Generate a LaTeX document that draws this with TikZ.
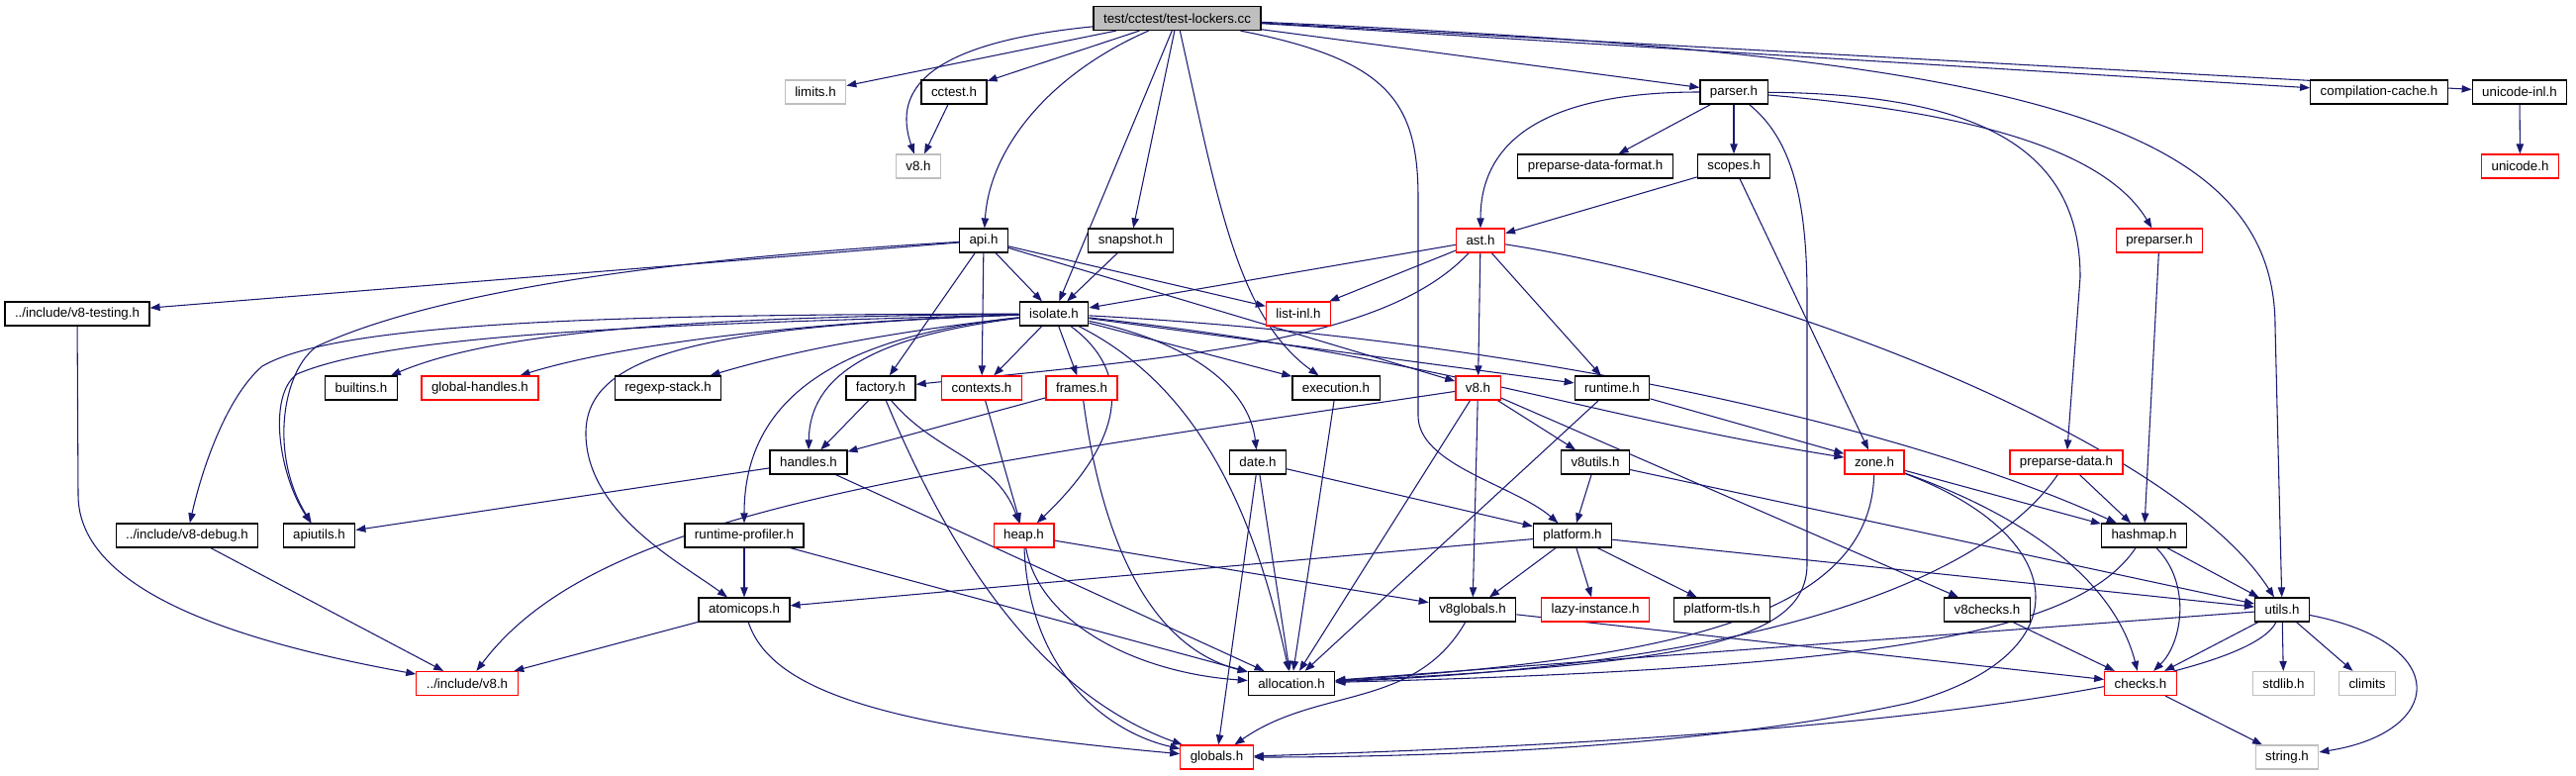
\documentclass[tikz,border=0pt]{standalone}
\usepackage{fontspec}
\setmainfont{Liberation Sans}
\usetikzlibrary{arrows.meta,backgrounds}
\definecolor{edgeblue}{HTML}{191970}
\definecolor{hdrgray}{HTML}{BFBFBF}

\begin{document}
\begin{tikzpicture}[x=0.75pt,y=0.75pt,
    file/.style={draw=black,line width=0.9pt,fill=white,inner xsep=7.5pt,inner ysep=0pt,minimum height=18pt},
    redfile/.style={file,draw=red},
    sysfile/.style={file,draw=hdrgray},
    hdr/.style={file,fill=hdrgray},
    dep/.style={draw=edgeblue,line width=0.8pt,-{Triangle[length=7.5pt,width=5.5pt]}}]
  \useasboundingbox (0,0) rectangle (2603,-784);

  % row 0-2
  \node[hdr] (top) at (1189.5,-18.5) {test/cctest/test-lockers.cc};
  \node[sysfile] (limits) at (824,-93) {limits.h};
  \node[file] (cctest) at (964,-93) {cctest.h};
  \node[file] (parser) at (1752,-93) {parser.h};
  \node[file] (compcache) at (2404,-93) {compilation-cache.h};
  \node[file] (unicodeinl) at (2546,-93) {unicode-inl.h};
  \node[sysfile] (vEight) at (928,-168) {v8.h};
  \node[file] (ppdformat) at (1612,-168) {preparse-data-format.h};
  \node[file] (scopes) at (1752,-168) {scopes.h};
  \node[redfile] (unicode) at (2546.5,-168) {unicode.h};

  % row 3-4
  \node[file] (api) at (994,-243) {api.h};
  \node[file] (snapshot) at (1142.5,-243) {snapshot.h};
  \node[redfile] (ast) at (1496,-243) {ast.h};
  \node[redfile] (preparser) at (2182,-243) {preparser.h};
  \node[file] (vtesting) at (78,-317) {../include/v8-testing.h};
  \node[file] (isolate) at (1065,-317) {isolate.h};
  \node[redfile] (listinl) at (1312,-317) {list-inl.h};

  % row 5-6
  \node[file] (builtins) at (365,-392) {builtins.h};
  \node[redfile] (globalhandles) at (485,-392) {global-handles.h};
  \node[file] (regexpstack) at (675,-392) {regexp-stack.h};
  \node[file] (factory) at (890,-392) {factory.h};
  \node[redfile] (contexts) at (992,-392) {contexts.h};
  \node[redfile] (frames) at (1093,-392) {frames.h};
  \node[file] (execution) at (1350,-392) {execution.h};
  \node[redfile] (veight) at (1493.5,-392) {v8.h};
  \node[file] (runtime) at (1629,-392) {runtime.h};
  \node[file] (handles) at (817,-467) {handles.h};
  \node[file] (date) at (1271,-467) {date.h};
  \node[file] (vutils) at (1612,-467) {v8utils.h};
  \node[redfile] (zone) at (1894,-467) {zone.h};
  \node[redfile] (preparsedata) at (2088,-467) {preparse-data.h};

  % row 7-8
  \node[file] (vdebug) at (189,-541) {../include/v8-debug.h};
  \node[file] (apiutils) at (322.5,-541) {apiutils.h};
  \node[file] (rtprofiler) at (752,-541) {runtime-profiler.h};
  \node[redfile] (heap) at (1034.5,-541) {heap.h};
  \node[file] (platform) at (1589,-541) {platform.h};
  \node[file] (hashmap) at (2166.5,-541) {hashmap.h};
  \node[file] (atomicops) at (752,-616) {atomicops.h};
  \node[file] (vglobals) at (1488,-616) {v8globals.h};
  \node[redfile] (lazy) at (1612,-616) {lazy-instance.h};
  \node[file] (tls) at (1740,-616) {platform-tls.h};
  \node[file] (vchecks) at (2008,-616) {v8checks.h};
  \node[file] (utils) at (2306,-616) {utils.h};

  % row 9-10
  \node[redfile] (incveight) at (472,-690.5) {../include/v8.h};
  \node[file] (allocation) at (1305,-690.5) {allocation.h};
  \node[redfile] (checks) at (2163,-690.5) {checks.h};
  \node[sysfile] (stdlib) at (2307.5,-690.5) {stdlib.h};
  \node[sysfile] (climits) at (2392,-690.5) {climits};
  \node[redfile] (globals) at (1229.5,-765) {globals.h};
  \node[sysfile] (stringh) at (2311,-765) {string.h};

  \begin{scope}[on background layer]
  % straight includes
  \foreach \a/\b in {top/limits,top/cctest,top/isolate,top/snapshot,top/parser,
      top/compcache,top/unicodeinl,cctest/vEight,parser/ppdformat,parser/scopes,
      scopes/ast,scopes/zone,unicodeinl/unicode,preparser/hashmap,
      api/vtesting,api/isolate,api/factory,api/contexts,api/listinl,api/veight,
      snapshot/isolate,ast/isolate,ast/listinl,ast/veight,ast/runtime,
      isolate/contexts,isolate/frames,isolate/execution,isolate/runtime,
      factory/handles,contexts/heap,frames/handles,handles/apiutils,handles/allocation,
      heap/vglobals,date/platform,date/allocation,date/globals,execution/allocation,
      veight/vutils,veight/vglobals,veight/allocation,veight/vchecks,
      runtime/allocation,runtime/zone,vutils/platform,vutils/utils,zone/hashmap,
      preparsedata/hashmap,hashmap/utils,platform/atomicops,platform/vglobals,
      platform/lazy,platform/tls,platform/utils,vglobals/checks,vchecks/checks,
      utils/allocation,utils/checks,utils/stdlib,utils/climits,checks/stringh,
      atomicops/incveight,rtprofiler/atomicops,rtprofiler/allocation,vdebug/incveight}
    \draw[dep] (\a) -- (\b);

  % curved includes
  \draw[dep] (top) .. controls (920,-45) and (905,-100) .. (vEight);
  \draw[dep] (top) .. controls (1060,-75) and (1000,-150) .. (api);
  \draw[dep] (top) .. controls (1230,-200) and (1250,-320) .. (execution);
  \draw[dep] (top) .. controls (1400,-60) and (1433,-100) .. (1433,-200)
    -- (1433,-420) .. controls (1433,-470) and (1530,-490) .. (platform);
  \draw[dep] (top) .. controls (2000,-55) and (2299,-110) .. (2299,-330) -- (utils);
  \draw[dep] (parser) to[out=180,in=90,looseness=1.1] (ast);
  \draw[dep] (parser) .. controls (1810,-140) and (1826,-200) .. (1826,-300)
    -- (1826,-570) .. controls (1826,-650) and (1700,-670) .. (allocation);
  \draw[dep] (parser) .. controls (2000,-95) and (2102,-150) .. (2102,-280) -- (preparsedata);
  \draw[dep] (parser) .. controls (1950,-110) and (2120,-140) .. (preparser);
  \draw[dep] (ast) .. controls (1400,-345) and (1200,-360) .. (factory);
  \draw[dep] (ast) .. controls (1800,-290) and (2200,-450) .. (utils);
  \draw[dep] (api) .. controls (700,-260) and (450,-290) .. (320,-350)
    .. controls (285,-375) and (272,-460) .. (apiutils);
  \draw[dep] (isolate) .. controls (700,-327) and (400,-335) .. (300,-378)
    .. controls (270,-400) and (282,-480) .. (apiutils);
  \draw[dep] (isolate) .. controls (700,-318) and (350,-320) .. (265,-370)
    .. controls (230,-400) and (205,-470) .. (vdebug);
  \draw[dep] (isolate) .. controls (700,-320) and (500,-335) .. (builtins);
  \draw[dep] (isolate) .. controls (800,-325) and (620,-350) .. (globalhandles);
  \draw[dep] (isolate) .. controls (900,-335) and (800,-355) .. (regexpstack);
  \draw[dep] (isolate) .. controls (880,-340) and (818,-380) .. (handles);
  \draw[dep] (isolate) .. controls (850,-340) and (752,-400) .. (rtprofiler);
  \draw[dep] (isolate) .. controls (700,-330) and (590,-360) .. (592,-440)
    .. controls (594,-520) and (690,-570) .. (atomicops);
  \draw[dep] (isolate) .. controls (1150,-380) and (1130,-450) .. (heap);
  \draw[dep] (isolate) .. controls (1190,-380) and (1260,-480) .. (allocation);
  \draw[dep] (isolate) .. controls (1200,-345) and (1262,-390) .. (date);
  \draw[dep] (isolate) .. controls (1450,-360) and (1600,-420) .. (zone);
  \draw[dep] (isolate) .. controls (1500,-340) and (1900,-420) .. (hashmap);
  \draw[dep] (factory) to[out=-50,in=110] (heap);
  \draw[dep] (factory) .. controls (960,-560) and (1050,-700) .. (globals);
  \draw[dep] (frames) .. controls (1110,-520) and (1150,-650) .. (allocation);
  \draw[dep] (heap) .. controls (1050,-630) and (1150,-680) .. (allocation);
  \draw[dep] (heap) .. controls (1040,-680) and (1120,-740) .. (globals);
  \draw[dep] (atomicops) .. controls (780,-700) and (900,-735) .. (globals);
  \draw[dep] (vglobals) to[out=-120,in=35] (globals);
  \draw[dep] (veight) .. controls (900,-480) and (600,-520) .. (incveight);
  \draw[dep] (zone) .. controls (1890,-620) and (1700,-665) .. (allocation);
  \draw[dep] (zone) .. controls (2070,-530) and (2140,-600) .. (checks);
  \draw[dep] (zone) .. controls (2090,-540) and (2110,-660) .. (1930,-710)
    .. controls (1700,-760) and (1400,-765) .. (globals);
  \draw[dep] (preparsedata) .. controls (2010,-580) and (1800,-670) .. (allocation);
  \draw[dep] (hashmap) .. controls (2100,-640) and (1900,-675) .. (allocation);
  \draw[dep] (hashmap) .. controls (2215,-590) and (2205,-650) .. (checks);
  \draw[dep] (utils) .. controls (2270,-690) and (1900,-745) .. (globals);
  \draw[dep] (utils) .. controls (2480,-650) and (2470,-740) .. (stringh);
  \draw[dep] (vtesting) -- (79,-500) .. controls (79,-600) and (250,-650) .. (incveight);
  \end{scope}
\end{tikzpicture}
\end{document}
